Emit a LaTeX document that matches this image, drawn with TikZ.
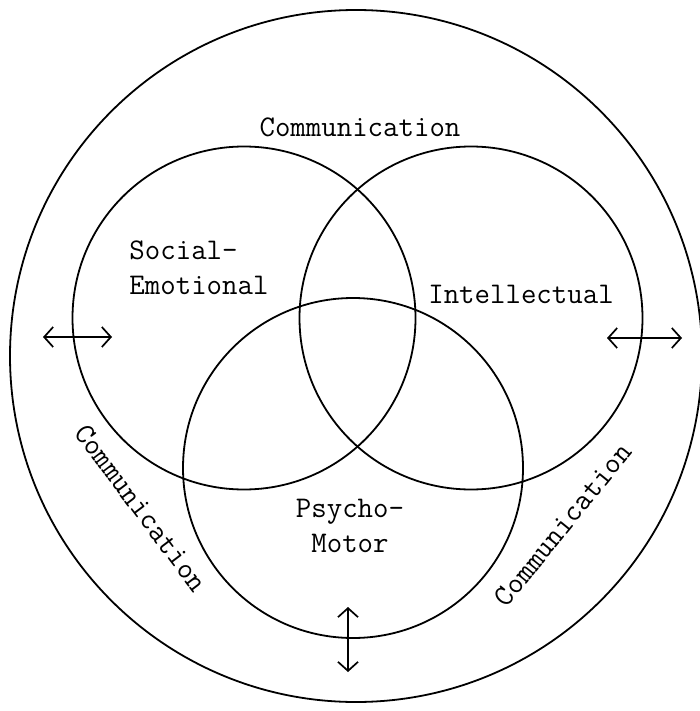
\documentclass[tikz,border=0pt]{standalone}
\usetikzlibrary{arrows.meta}
\begin{document}
\begin{tikzpicture}[x=1pt,y=-1pt,
  ring/.style={draw=black,line width=1.8pt},
  lbl/.style={font=\ttfamily\fontsize{30}{35}\selectfont,inner sep=0pt},
  dbl/.style={line width=1.7pt,{Straight Barb[length=9pt,width=20pt,line width=1.7pt]}-{Straight Barb[length=9pt,width=20pt,line width=1.7pt]}}]
\useasboundingbox (0,0) rectangle (700,711);
\draw[ring] (356,356) circle[radius=346];
\draw[ring] (244,318) circle[radius=171.5];
\draw[ring] (471,318) circle[radius=171.5];
\draw[ring] (353,468) circle[radius=170];
\node[lbl] (topc) at (360,127) {Communication};
\node[lbl,align=left] (soc) at (199,268) {Social-\\Emotional};
\node[lbl] (int) at (521,294) {Intellectual};
\node[lbl,align=center] (psy) at (350,526) {Psycho-\\Motor};
\node[lbl,rotate=-53] (leftc) at (141,508) {Communication};
\node[lbl,rotate=51] (rightc) at (563,525) {Communication};
\coordinate (la) at (43,337); \coordinate (lb) at (112,337);
\coordinate (ra) at (607,338); \coordinate (rb) at (682,338);
\coordinate (ba) at (348,607); \coordinate (bb) at (348,672);
\draw[dbl] (la) -- (lb);
\draw[dbl] (ra) -- (rb);
\draw[dbl] (ba) -- (bb);
\end{tikzpicture}
\end{document}
